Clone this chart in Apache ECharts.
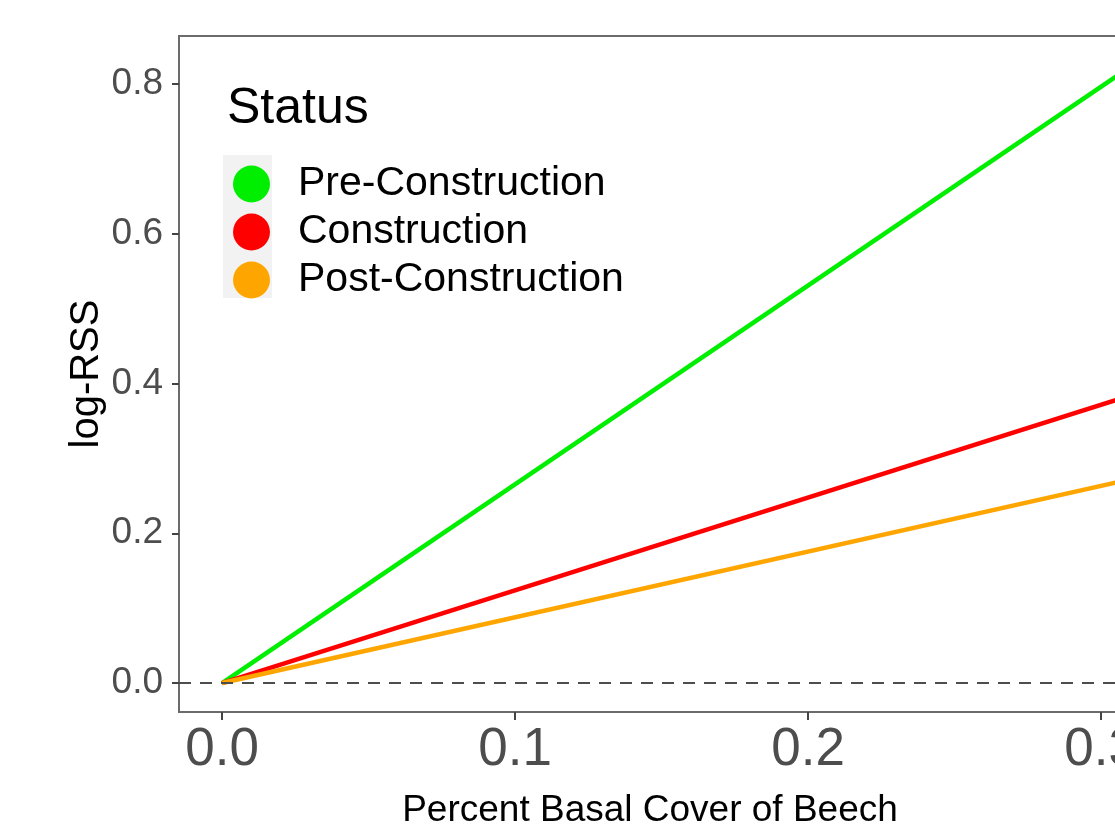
<!DOCTYPE html>
<html>
<head>
<meta charset="utf-8">
<script src="https://cdn.jsdelivr.net/npm/echarts@6/dist/echarts.min.js"></script>
<style>
html,body{margin:0;padding:0;background:#fff;}
#chart{width:1115px;height:824px;}
</style>
</head>
<body>
<div id="chart"></div>
<script>
// ---- data ----
const statusNames = ['Pre-Construction', 'Construction', 'Post-Construction'];
const statusColors = ['#00EE00', '#FF0000', '#FFA500'];
const basalCover = [0, 0.31];
const preConstruction = [0, 0.823];
const construction = [0, 0.384];
const postConstruction = [0, 0.272];
const xTicks = [0, 0.1, 0.2, 0.3];
const yTicks = [0, 0.2, 0.4, 0.6, 0.8];
const xLimits = [-0.0147, 0.3068];
const yLimits = [-0.0387, 0.8641];

const seriesValues = [preConstruction, construction, postConstruction];
const FONT = '"Liberation Sans", Arial, sans-serif';

const chart = echarts.init(document.getElementById('chart'), null, {renderer: 'canvas'});

const series = statusNames.map((name, i) => ({
  name: name,
  type: 'line',
  data: basalCover.map((x, j) => [x, seriesValues[i][j]]),
  showSymbol: false,
  symbol: 'circle',
  color: statusColors[i],
  lineStyle: {width: 4.5, color: statusColors[i]},
  itemStyle: {color: statusColors[i]},
  z: 3,
  silent: true,
  animation: false
}));

series.push({
  name: 'zero',
  type: 'line',
  data: [],
  silent: true,
  animation: false,
  markLine: {
    symbol: 'none',
    silent: true,
    label: {show: false},
    animation: false,
    lineStyle: {color: '#4d4d4d', width: 2, type: [12, 9]},
    data: [{yAxis: 0}]
  },
  z: 2
});

chart.setOption({
  animation: false,
  backgroundColor: '#ffffff',
  grid: {
    left: 179, top: 36, width: 942, height: 676,
    containLabel: false,
    outerBoundsMode: 'none',
    show: true, borderColor: '#6b6b6b', borderWidth: 2, backgroundColor: 'transparent'
  },
  xAxis: {
    type: 'value',
    min: xLimits[0], max: xLimits[1],
    name: 'Percent Basal Cover of Beech',
    nameLocation: 'middle',
    nameGap: 80,
    nameMoveOverlap: false,
    nameTextStyle: {fontFamily: FONT, fontSize: 37, color: '#000'},
    axisLine: {show: false, onZero: false},
    splitLine: {show: false},
    axisTick: {show: true, length: 8, lineStyle: {color: '#444', width: 2}, customValues: xTicks},
    axisLabel: {
      customValues: xTicks,
      fontFamily: FONT, fontSize: 53, color: '#4d4d4d', margin: 12,
      formatter: v => v.toFixed(1)
    }
  },
  yAxis: {
    type: 'value',
    min: yLimits[0], max: yLimits[1],
    name: 'log-RSS',
    nameLocation: 'middle',
    nameGap: 72,
    nameMoveOverlap: false,
    nameTextStyle: {fontFamily: FONT, fontSize: 40, color: '#000'},
    axisLine: {show: false, onZero: false},
    splitLine: {show: false},
    axisTick: {show: true, length: 7, lineStyle: {color: '#444', width: 2}, customValues: yTicks},
    axisLabel: {
      customValues: yTicks,
      fontFamily: FONT, fontSize: 37, color: '#4d4d4d', margin: 16,
      formatter: v => v.toFixed(1)
    }
  },
  legend: {
    data: statusNames,
    orient: 'vertical',
    left: 228, top: 155,
    icon: 'circle',
    itemWidth: 37, itemHeight: 37,
    itemGap: 0,
    selectedMode: false,
    textStyle: {fontFamily: FONT, fontSize: 41, color: '#000', lineHeight: 48, padding: [0, 0, 0, 23]}
  },
  graphic: [
    {type: 'rect', left: 223, top: 155, shape: {width: 49, height: 143}, style: {fill: '#F2F2F2'}, z: -10, silent: true},
    {type: 'text', left: 227, top: 84, style: {text: 'Status', font: '50px ' + FONT, fill: '#000'}, silent: true}
  ],
  series: series
});
</script>
</body>
</html>
